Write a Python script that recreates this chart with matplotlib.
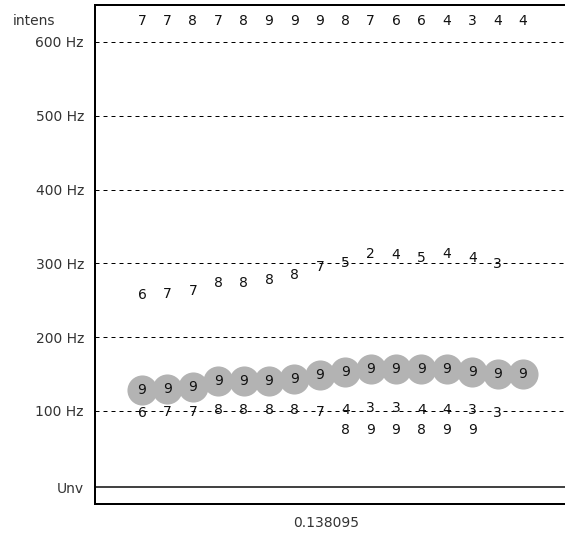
import matplotlib
matplotlib.use("Agg")
import matplotlib.pyplot as plt
import matplotlib.transforms as mtransforms

# frame columns (one per analysis frame)
frames = list(range(16))
intensity = [7, 7, 8, 7, 8, 9, 9, 9, 8, 7, 6, 6, 4, 3, 4, 4]

# chosen pitch path (circled), all strength 9
pathHz = [128, 130, 133, 140, 141, 141, 144, 149, 153, 157, 157, 157, 157, 153, 150, 150]
pathStrength = [9] * 16

# candidates around 250-310 Hz (frames 0..14)
highHz = [257, 259, 263, 273, 274, 277, 284, 295, 300, 312, 311, 307, 312, 307, 299]
highStrength = [6, 7, 7, 8, 8, 8, 8, 7, 5, 2, 4, 5, 4, 4, 3]

# candidates around 100 Hz (frames 0..14)
lowHz = [97, 99, 99, 101, 101, 101, 101, 99, 101, 104, 104, 101, 101, 101, 97]
lowStrength = [6, 7, 7, 8, 8, 8, 8, 7, 4, 3, 3, 4, 4, 3, 3]

# candidates around 75 Hz (frames 8..13)
lowestFrames = [8, 9, 10, 11, 12, 13]
lowestHz = [74, 74, 74, 74, 74, 74]
lowestStrength = [8, 9, 9, 8, 9, 9]

gridHz = [100, 200, 300, 400, 500, 600]
unvoicedHz = -3
intensRowHz = 628
timeLabel = "0.138095"

W, H = 565, 535
fig = plt.figure(figsize=(W / 100, H / 100), dpi=100)
ax = fig.add_axes([95 / W, 31 / H, (600 - 95) / W, 499 / H])
ax.set_xlim(-1.85, 18.03)
ax.set_ylim(-26, 650)

fs = 10
for hz in gridHz:
    ax.axhline(hz, color="black", linewidth=0.72, linestyle=(0, (4, 4)), zorder=1)
ax.axhline(unvoicedHz, color="#444444", linewidth=1.44, zorder=1)

ax.scatter(frames, pathHz, s=470, color="#b3b3b3", linewidths=0, zorder=2)

def digits(xs, ys, vals):
    for x, y, v in zip(xs, ys, vals):
        ax.text(x, y, str(v), ha="center", va="center", fontsize=fs, color="#111111", zorder=3)

digits(frames, pathHz, pathStrength)
digits(frames[:15], highHz, highStrength)
digits(frames[:15], lowHz, lowStrength)
digits(lowestFrames, lowestHz, lowestStrength)
digits(frames, [intensRowHz] * 16, intensity)

ax.set_xticks([])
ax.set_yticks(gridHz + [unvoicedHz])
ax.set_yticklabels(["%d Hz" % h for h in gridHz] + ["Unv"])
ax.tick_params(axis="y", length=0, pad=8, labelsize=fs, labelcolor="#333333")

trans = mtransforms.blended_transform_factory(fig.transFigure, ax.transData)
ax.text(13 / W, intensRowHz, "intens", transform=trans, ha="left", va="center",
        fontsize=fs, color="#333333")

for side in ["left", "top", "bottom"]:
    ax.spines[side].set_linewidth(1.44)
ax.spines["right"].set_visible(False)

fig.text(326 / W, (H - 523) / H, timeLabel, ha="center", va="center", fontsize=fs, color="#333333")

fig.savefig("out.png", dpi=100)
